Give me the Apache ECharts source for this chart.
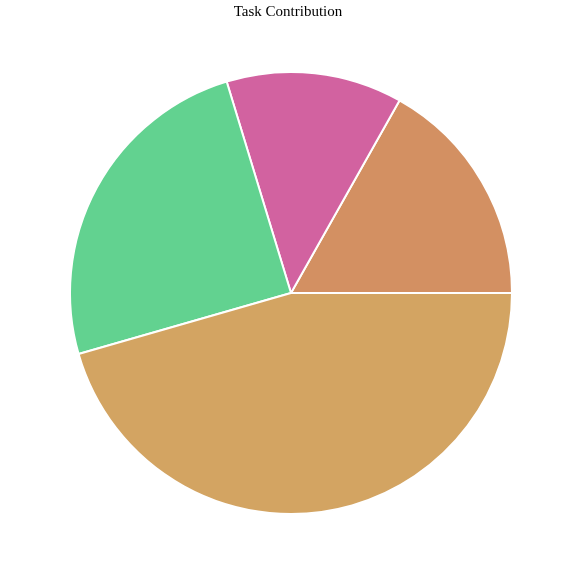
<!DOCTYPE html>
<html><head><meta charset="utf-8">
<script src="https://cdn.jsdelivr.net/npm/echarts@6/dist/echarts.min.js"></script>
<style>html,body{margin:0;padding:0;background:#fff}#c{width:576px;height:576px}</style>
</head><body><div id="c"></div>
<script>
const categories = ['siro','jiro','taro','Unfinished'];
const values = [17,13,25,46];
const colors = ['#D39062','#D262A0','#62D290','#D3A462'];
const data = categories.map((n,i)=>({name:n,value:values[i],itemStyle:{color:colors[i]}}));
const chart = echarts.init(document.getElementById('c'));
chart.setOption({
  animation:false,
  title:{text:'Task Contribution',left:'center',top:0,textStyle:{fontFamily:'Liberation Serif',fontSize:15,fontWeight:'normal',color:'#000'}},
  series:[
    {type:'pie',center:[291,293],radius:[0,221],startAngle:0,clockwise:false,
     itemStyle:{borderColor:'#fff',borderWidth:2},label:{show:false},labelLine:{show:false},data:data},
    {type:'pie',center:[291,293],radius:[0,354],startAngle:0,clockwise:false,silent:true,
     itemStyle:{opacity:0},labelLine:{show:false},
     label:{show:true,position:'inside',formatter:'{b}: {c}%',fontFamily:'Liberation Serif',fontSize:15,color:'#000'},
     data:data}
  ]
});
</script></body></html>
